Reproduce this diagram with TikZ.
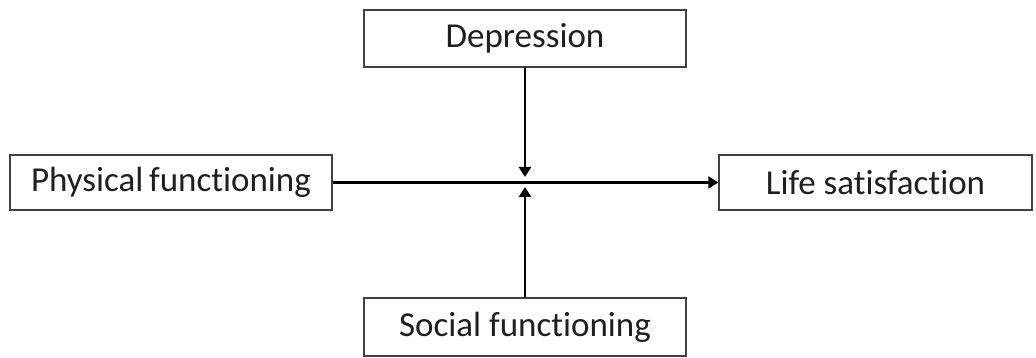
\documentclass[tikz,border=0pt]{standalone}
\usepackage{fontspec}
\setmainfont[Ligatures={NoCommon}]{Carlito}
\usetikzlibrary{arrows.meta}
\begin{document}
\begin{tikzpicture}[x=1pt,y=-1pt,
  box/.style={draw=black!75,line width=1.5pt,fill=white,inner sep=0pt,text=black!88,font=\fontsize{35}{40}\selectfont},
  link/.style={line width=2.6pt,-{Triangle[length=10pt,width=12pt]}}]
\useasboundingbox (0,0) rectangle (1036,358);
\node[box,minimum width=322pt,minimum height=55pt] (phys) at (171,182.5) {Physical\,functioning};
\node[box,minimum width=322pt,minimum height=57pt] (dep) at (525,38.5) {Depression};
\node[box,minimum width=322pt,minimum height=58pt] (soc) at (525,327) {Social functioning};
\node[box,minimum width=313pt,minimum height=55pt] (life) at (875.5,182.5) {Life satisfaction};
\coordinate (c1) at (525,177);
\coordinate (c2) at (525,187);
\draw[link] (phys.east) -- (life.west);
\draw[link] (dep.south) -- (c1);
\draw[link] (soc.north) -- (c2);
\end{tikzpicture}
\end{document}
